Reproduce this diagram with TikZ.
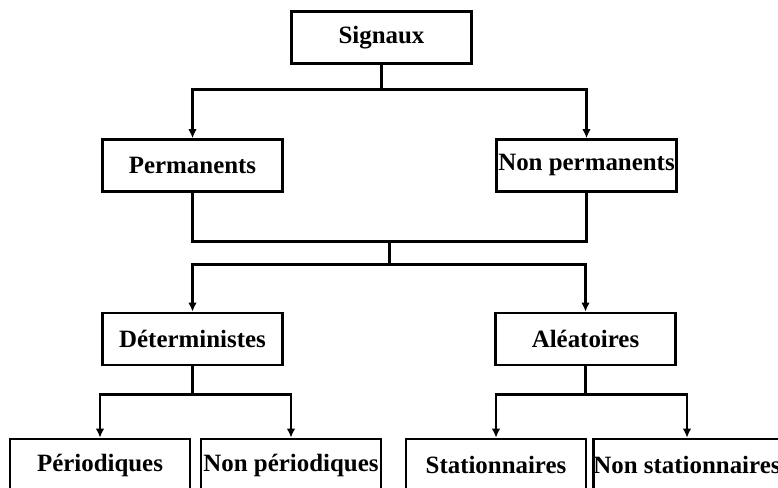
\documentclass[tikz,border=0pt]{standalone}
\usepackage{fontspec}
\setmainfont{Liberation Serif}
\usepackage{tikz}
\usetikzlibrary{arrows,arrows.meta,shapes,calc}

\begin{document}
\begin{tikzpicture}[>={Latex[length=9bp,width=8.5bp]},line join=miter,line width=2.6bp,
  box/.style={draw,rectangle,inner sep=0pt,minimum width=180bp,minimum height=52bp,
    font=\fontsize{25}{30}\selectfont\bfseries}]
\useasboundingbox (0bp,0bp) rectangle (778bp,488bp);
%%
\node (S) at (381.5bp,450.5bp) [box] {Signaux};
  \node (P) at (192.5bp,322.5bp) [box] {Permanents};
  \node (NP) at (586.5bp,322.5bp) [box] {Non permanents};
  \node (D) at (192.5bp,149.0bp) [box] {Déterministes};
  \node (A) at (585.5bp,149.0bp) [box] {Aléatoires};
  \node (Per) at (100.0bp,23.0bp) [box] {Périodiques};
  \node (NPer) at (291.0bp,23.0bp) [box] {Non périodiques};
  \node (St) at (496.0bp,23.0bp) [box] {Stationnaires};
  \node (NSt) at (687.0bp,23.0bp) [box] {Non stationnaires};
  % Signaux
  \draw (S.south) -- ++(0,-24.5bp) coordinate (s1);
  \draw [->] (s1) -| (P.north);
  \draw [->] (s1) -| (NP.north);
  % permanents / non permanents
  \draw (P.south) -- ++(0,-49bp) coordinate (p1) -| (NP.south);
  \coordinate (m) at ($(p1)!0.5!(p1 -| NP.south)$);
  \draw (m) -- ++(0,-23bp) coordinate (m1);
  \draw [->] (m1) -| (D.north);
  \draw [->] (m1) -| (A.north);
  % deterministes
  \draw (D.south) -- ++(0,-28bp) coordinate (d1);
  \draw [->] (d1) -| (Per.north);
  \draw [->] (d1) -| (NPer.north);
  % aleatoires
  \draw (A.south) -- ++(0,-28bp) coordinate (a1);
  \draw [->] (a1) -| (St.north);
  \draw [->] (a1) -| (NSt.north);
%
\end{tikzpicture}
\end{document}
